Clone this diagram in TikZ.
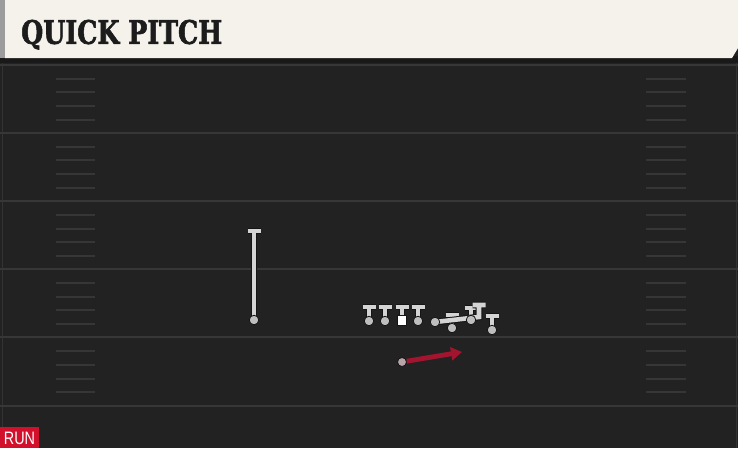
\documentclass[tikz,border=0pt]{standalone}
\usepackage{fontspec}
\usetikzlibrary{arrows.meta,calc}
\newfontfamily\titlefont[BoldFeatures={FakeBold=2}]{DejaVu Serif}
\newfontfamily\runfont{Liberation Sans}
\definecolor{fieldbg}{HTML}{222222}
\definecolor{yardc}{HTML}{373737}
\definecolor{hashc}{HTML}{363636}
\definecolor{headbg}{HTML}{F4F2EB}
\definecolor{headedge}{HTML}{9C9C9C}
\definecolor{titlec}{HTML}{1C1C1C}
\definecolor{plc}{HTML}{D4D4D4}
\definecolor{dotc}{HTML}{BEBEBE}
\definecolor{outc}{HTML}{141414}
\definecolor{runred}{HTML}{A3142F}
\definecolor{tagred}{HTML}{D2102C}
\tikzset{
  yard/.style={draw=yardc, line width=2pt},
  hashm/.style={draw=hashc, line width=2pt},
  stem/.style={draw=plc, line width=4.6pt, line cap=butt,
    preaction={draw=outc, line width=6.6pt}},
  pdot/.style={circle, fill=dotc, draw=outc, line width=0.8pt, inner sep=0pt, minimum size=9.5pt},
  snap/.style={rectangle, fill=white, draw=outc, line width=0.8pt, inner sep=0pt, minimum width=9pt, minimum height=10pt},
  runarrow/.style={draw=runred, line width=4.8pt, -{Triangle[length=11pt,width=13pt]}},
  rundot/.style={circle, fill=dotc!85!runred, draw=outc, line width=0.8pt, inner sep=0pt, minimum size=9pt}
}
% name, x, ydot, ytop
\newcommand\blocker[4]{%
  \coordinate (#1) at (#2,#3);
  \coordinate (#1t) at (#2,#4);
  \draw[stem] (#1) -- (#1t) ($(#1t)+(-6.5,0)$) -- ($(#1t)+(6.5,0)$);
}
\begin{document}
\begin{tikzpicture}[x=1pt,y=-1pt]
\useasboundingbox (0,0) rectangle (738,448);
% field
\fill[fieldbg] (0,0) rectangle (738,448);
\draw[draw=black!80, line width=0.8pt] (2,60) -- (2,448) (736,60) -- (736,448);
\foreach \y in {65,133,201,269,337,406} \draw[yard] (0,\y) -- (738,\y);
\foreach \k in {1,...,24}{
  \pgfmathtruncatemacro\r{mod(\k,5)}
  \ifnum\r>0
    \pgfmathsetmacro\yy{65+13.63*\k}
    \draw[hashm] (56,\yy) -- (95,\yy);
    \draw[hashm] (646,\yy) -- (686,\yy);
  \fi
}
% header
\fill[black!90] (0,56) rectangle (738,63);
\fill[headedge] (0,0) rectangle (5,58);
\fill[headbg] (5,0) -- (738,0) -- (738,48) -- (732,58) -- (5,58) -- cycle;
\node[anchor=south west, inner sep=0pt, text=titlec] (title) at (21,44)
  {\resizebox{201pt}{24pt}{\raisebox{0pt}[\height][0pt]{\titlefont\bfseries\fontsize{30}{30}\selectfont QUICK PITCH}}};
% lone route (vertical, ending in block)
\blocker{rb}{254}{320}{231}
% line
\blocker{l1}{369}{321}{307}
\blocker{l2}{385}{321}{307}
\blocker{c}{402}{320}{307}
\blocker{l3}{418}{321}{307}
\blocker{t1}{452}{328}{315}
\blocker{t2}{471}{320}{308}
\blocker{t4}{492}{330}{316}
% pulling player
\coordinate (p6) at (435,322);
\coordinate (p6a) at (479,317);
\coordinate (p6t) at (479,305);
\draw[stem, line join=miter] (p6) -- (p6a) -- (p6t) ($(p6t)+(-6.5,0)$) -- ($(p6t)+(6.5,0)$);
% dots
\node[pdot] (rbd) at (rb) {};
\node[pdot] (l1d) at (l1) {};
\node[pdot] (l2d) at (l2) {};
\node[snap] (cd) at (c) {};
\node[pdot] (l3d) at (l3) {};
\node[pdot] (t1d) at (t1) {};
\node[pdot] (t2d) at (t2) {};
\node[pdot] (t4d) at (t4) {};
\node[pdot] (p6d) at (p6) {};
% run path
\node[rundot] (qb) at (402,362) {};
\coordinate (runend) at (462,352);
\draw[runarrow] (qb) -- (runend);
% tag
\fill[tagred] (0,427) rectangle (39,448);
\node[anchor=base, text=white, inner sep=0pt] (tag) at (19.5,444)
  {\scalebox{0.8}[1]{\runfont\fontsize{18}{18}\selectfont RUN}};
\end{tikzpicture}
\end{document}
